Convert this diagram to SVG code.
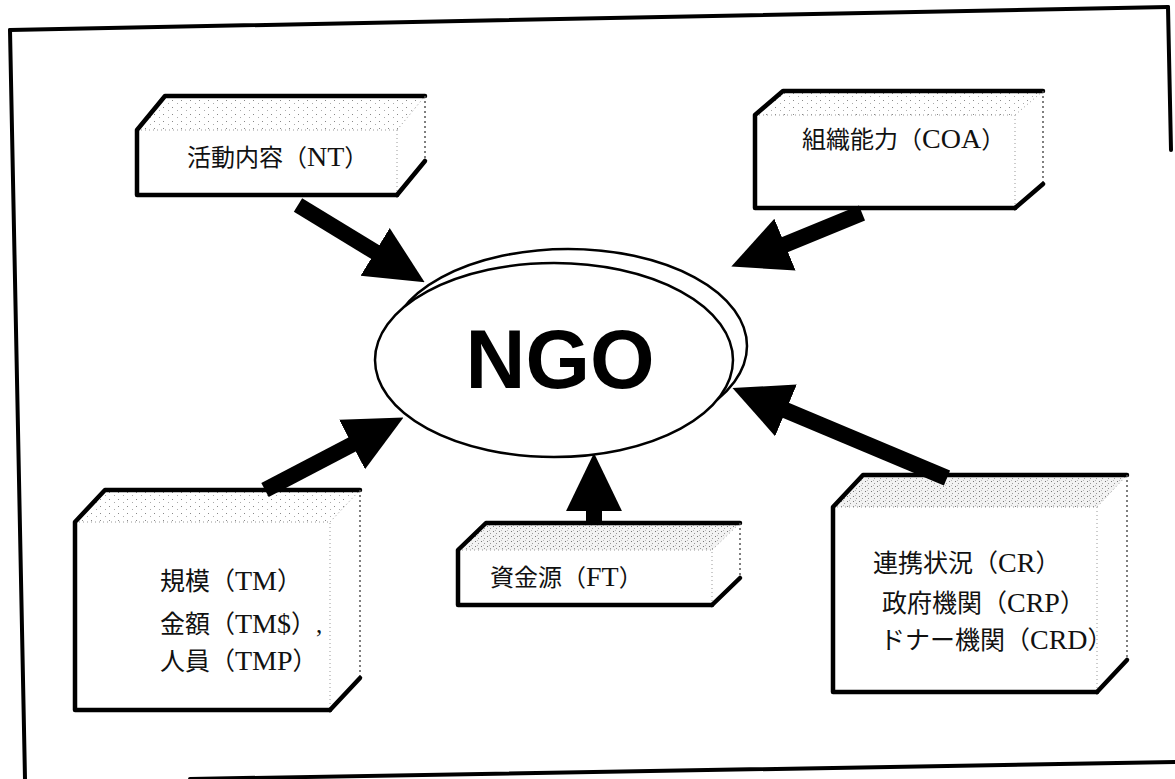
<svg xmlns="http://www.w3.org/2000/svg" width="1175" height="779" viewBox="0 0 1175 779">
<style>
.frame{stroke:#000;stroke-width:4;fill:none;stroke-linecap:round}
.sil{fill:none;stroke:#000;stroke-width:4.5;stroke-linejoin:round;stroke-linecap:round}
.thin{fill:none;stroke:#555;stroke-width:1.5;stroke-dasharray:2 3}
.inner{fill:none;stroke:#999;stroke-width:1;stroke-dasharray:1 3}
.front{fill:#fff}
.lbl{font-family:"Liberation Serif","Noto Sans CJK JP",serif;font-size:24px;fill:#111}
.mid{font-size:25px}
.lat{font-size:28px}
.shaft{stroke:#000;stroke-width:16;fill:none}
.ngo{font-family:"Liberation Sans",Arial,sans-serif;font-weight:bold;font-size:83px;fill:#000}
</style>
<defs>
<pattern id="sp1" width="9" height="7" patternUnits="userSpaceOnUse">
<rect width="9" height="7" fill="#fff"/>
<rect x="1" y="2" width="1" height="1" fill="#888"/>
<rect x="6" y="5" width="1" height="1" fill="#aaa"/>
</pattern>
<pattern id="sp2" width="6" height="5" patternUnits="userSpaceOnUse">
<rect width="6" height="5" fill="#f2f2f2"/>
<rect x="1" y="1" width="1" height="1" fill="#777"/>
<rect x="4" y="3" width="1" height="1" fill="#999"/>
<rect x="3" y="0" width="1" height="1" fill="#bbb"/>
</pattern>
<marker id="head" markerUnits="userSpaceOnUse" markerWidth="58" markerHeight="58" viewBox="0 0 56 56" refX="1" refY="28" orient="auto">
<path d="M0,1 L56,28 L0,55 Z" fill="#000"/>
</marker>
</defs>

<g id="frame">
<line class="frame" x1="10" y1="30" x2="1168" y2="7"/>
<line class="frame" x1="10" y1="30" x2="25" y2="779"/>
<line class="frame" x1="1168" y1="7" x2="1171" y2="150"/>
<line class="frame" x1="190" y1="779" x2="1175" y2="762"/>
</g>

<g id="node-nt">
<polygon points="137,130 165,96 425,96 397,130" fill="url(#sp1)"/>
<polygon points="397,130 425,96 425,161 397,195" fill="#fff"/>
<rect class="front" x="137" y="130" width="260" height="65"/>
<path class="inner" d="M137,130 L397,130 L397,195 M397,130 L425,96"/>
<path class="sil" d="M397,195 L137,195 L137,130 L165,96 L425,96"/>
<path class="thin" d="M425,96 L425,161"/>
<path class="sil" d="M425,161 L397,195"/>
<text class="lbl" x="187" y="166">活動内容（<tspan class="lat">NT</tspan>）</text>
</g>

<g id="node-coa">
<polygon points="755,115 783,91 1043,91 1015,115" fill="url(#sp1)"/>
<polygon points="1015,115 1043,91 1043,184 1015,208" fill="#fff"/>
<rect class="front" x="755" y="115" width="260" height="93"/>
<path class="inner" d="M755,115 L1015,115 L1015,208 M1015,115 L1043,91"/>
<path class="sil" d="M1015,208 L755,208 L755,115 L783,91 L1043,91"/>
<path class="thin" d="M1043,91 L1043,184"/>
<path class="sil" d="M1043,184 L1015,208"/>
<text class="lbl" x="802" y="148">組織能力（<tspan class="lat">COA</tspan>）</text>
</g>

<g id="node-tm">
<polygon points="75,522 105,490 360,490 330,522" fill="url(#sp1)"/>
<polygon points="330,522 360,490 360,678 330,710" fill="#fff"/>
<rect class="front" x="75" y="522" width="255" height="188"/>
<path class="inner" d="M75,522 L330,522 L330,710 M330,522 L360,490"/>
<path class="sil" d="M330,710 L75,710 L75,522 L105,490 L360,490"/>
<path class="thin" d="M360,490 L360,678"/>
<path class="sil" d="M360,678 L330,710"/>
<text class="lbl mid" x="160" y="590">規模（<tspan class="lat">TM</tspan>）</text>
<text class="lbl mid" x="160" y="633">金額（<tspan class="lat">TM$</tspan>）,</text>
<text class="lbl mid" x="160" y="670">人員（<tspan class="lat">TMP</tspan>）</text>
</g>

<g id="node-ft">
<polygon points="458,550 486,523 740,523 712,550" fill="url(#sp2)"/>
<polygon points="712,550 740,523 740,578 712,605" fill="#fff"/>
<rect class="front" x="458" y="550" width="254" height="55"/>
<path class="inner" d="M458,550 L712,550 L712,605 M712,550 L740,523"/>
<path class="sil" d="M712,605 L458,605 L458,550 L486,523 L740,523"/>
<path class="thin" d="M740,523 L740,578"/>
<path class="sil" d="M740,578 L712,605"/>
<text class="lbl" x="490" y="586">資金源（<tspan class="lat">FT</tspan>）</text>
</g>

<g id="node-cr">
<polygon points="833,507 863,475 1127,475 1097,507" fill="url(#sp2)"/>
<polygon points="1097,507 1127,475 1127,660 1097,692" fill="#fff"/>
<rect class="front" x="833" y="507" width="264" height="185"/>
<path class="inner" d="M833,507 L1097,507 L1097,692 M1097,507 L1127,475"/>
<path class="sil" d="M1097,692 L833,692 L833,507 L863,475 L1127,475"/>
<path class="thin" d="M1127,475 L1127,660"/>
<path class="sil" d="M1127,660 L1097,692"/>
<text class="lbl mid" x="873" y="572">連携状況（<tspan class="lat">CR</tspan>）</text>
<text class="lbl mid" x="882" y="612">政府機関（<tspan class="lat">CRP</tspan>）</text>
<text class="lbl mid" x="880" y="649">ドナー機関（<tspan class="lat">CRD</tspan>）</text>
</g>

<g id="connectors">
<line class="shaft" x1="298" y1="205" x2="376" y2="252.5" marker-end="url(#head)"/>
<line class="shaft" x1="862" y1="213" x2="784" y2="245" marker-end="url(#head)"/>
<line class="shaft" x1="265" y1="490" x2="353" y2="444" marker-end="url(#head)"/>
<line class="shaft" x1="594" y1="524" x2="594" y2="510" marker-end="url(#head)"/>
<line class="shaft" x1="947" y1="478" x2="785" y2="410" marker-end="url(#head)"/>
</g>

<g id="node-ngo">
<ellipse cx="568" cy="346" rx="179" ry="97" fill="#fff" stroke="#000" stroke-width="2.5"/>
<ellipse cx="554" cy="360" rx="179" ry="97" fill="#fff" stroke="#000" stroke-width="2.5"/>
<text class="ngo" x="560" y="388" text-anchor="middle">NGO</text>
</g>
</svg>
